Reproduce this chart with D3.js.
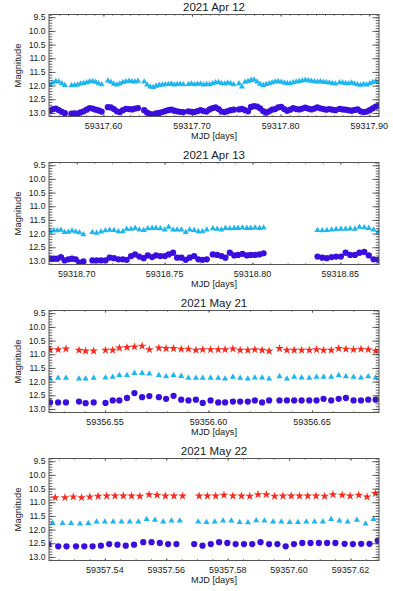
<!DOCTYPE html>
<html><head><meta charset="utf-8">
<script src="https://cdn.jsdelivr.net/npm/d3@7"></script>
<style>
body{margin:0;background:#fff}
svg{display:block}
text{font-family:"Liberation Sans",Arial,Helvetica,sans-serif;fill:#1a1a1a}
</style>
</head><body>
<svg id="chart" width="393" height="591"></svg>
<script>
// ---------- DATA ----------
const titles = ["2021 Apr 12", "2021 Apr 13", "2021 May 21", "2021 May 22"];
const yTickValues = [9.5, 10.0, 10.5, 11.0, 11.5, 12.0, 12.5, 13.0];

// 2021 Apr 12
const apr12XTicks = [59317.60, 59317.70, 59317.80, 59317.90];
const apr12Time = [
59317.5395,59317.5429,59317.5463,59317.5497,59317.5531,59317.5565,
59317.5640,59317.5674,59317.5708,59317.5742,59317.5776,59317.5810,59317.5844,59317.5878,59317.5912,59317.5946,59317.5980,
59317.6050,59317.6084,59317.6118,59317.6152,59317.6186,59317.6220,59317.6254,59317.6288,59317.6322,59317.6356,59317.6390,
59317.6460,59317.6494,59317.6528,59317.6562,59317.6596,59317.6630,59317.6664,59317.6698,59317.6732,59317.6766,59317.6800,59317.6834,59317.6868,59317.6902,
59317.6960,59317.6994,59317.7028,59317.7062,59317.7096,59317.7130,59317.7164,59317.7198,59317.7232,59317.7266,59317.7300,59317.7334,59317.7368,59317.7402,59317.7436,59317.7470,
59317.7530,59317.7564,59317.7598,59317.7632,59317.7666,59317.7700,59317.7734,59317.7768,59317.7802,59317.7836,59317.7870,59317.7904,59317.7938,59317.7972,59317.8006,59317.8040,59317.8074,59317.8108,59317.8142,59317.8176,59317.8210,59317.8244,59317.8278,59317.8312,59317.8346,59317.8380,59317.8414,59317.8448,59317.8482,59317.8516,59317.8550,59317.8584,59317.8618,
59317.8665,59317.8699,59317.8733,59317.8767,59317.8801,59317.8835,59317.8869,59317.8903,59317.8937,59317.8971,59317.9005,59317.9039,59317.9073,59317.9107];
const apr12Tri = [
11.96,11.90,11.84,11.86,11.92,11.99,
12.00,11.99,11.97,11.93,11.91,11.89,11.85,11.84,11.87,11.92,11.96,
11.82,11.87,11.94,11.97,11.93,11.88,11.85,11.83,11.85,11.86,11.83,
11.86,11.97,12.04,12.06,12.01,11.98,11.97,11.96,11.95,11.93,11.97,11.95,11.94,11.96,
11.95,11.93,11.96,11.94,11.93,11.97,11.95,11.96,11.92,11.89,11.88,11.91,11.93,11.90,11.92,11.96,
11.92,12.04,11.87,11.84,11.80,11.79,11.86,11.94,11.99,11.95,11.92,11.89,11.86,11.84,11.87,11.90,11.91,11.92,11.89,11.86,11.84,11.82,11.80,11.81,11.83,11.85,11.86,11.85,11.87,11.88,11.90,11.91,11.93,
11.89,11.90,11.91,11.92,11.90,11.93,11.96,11.98,11.95,11.97,11.92,11.88,11.84,11.87];
const apr12Circ = [
12.93,12.86,12.84,12.90,12.96,13.01,
13.03,13.02,13.03,12.98,12.94,12.88,12.82,12.84,12.88,12.91,12.95,
12.79,12.80,12.86,12.94,12.97,12.90,12.85,12.86,12.87,12.84,12.82,
12.90,12.99,13.04,13.05,13.02,13.00,12.97,12.93,12.90,12.88,12.92,12.94,12.96,12.97,
12.94,12.96,12.97,12.93,12.90,12.93,12.95,12.87,12.82,12.80,12.86,12.95,12.97,12.93,12.90,12.88,
12.87,12.85,12.90,12.94,12.78,12.75,12.77,12.83,12.93,12.99,12.94,12.88,12.86,12.80,12.78,12.86,12.92,12.88,12.82,12.86,12.87,12.84,12.81,12.84,12.87,12.84,12.80,12.83,12.86,12.88,12.86,12.88,12.90,
12.85,12.87,12.88,12.90,12.92,12.89,12.87,12.94,12.97,12.95,12.90,12.83,12.77,12.74];

// 2021 Apr 13
const apr13XTicks = [59318.70, 59318.75, 59318.80, 59318.85];
const apr13Time = [
59318.6848,59318.6869,59318.6889,59318.6910,59318.6931,59318.6952,59318.6973,59318.6994,59318.7015,59318.7038,
59318.7089,59318.7113,59318.7138,59318.7163,59318.7187,59318.7212,59318.7237,59318.7262,59318.7284,59318.7309,59318.7332,59318.7356,59318.7381,59318.7404,59318.7429,59318.7451,59318.7476,59318.7501,59318.7523,59318.7548,59318.7571,59318.7596,59318.7620,59318.7643,59318.7668,59318.7692,59318.7715,59318.7740,
59318.7774,59318.7799,59318.7823,59318.7846,59318.7871,59318.7896,59318.7918,59318.7943,59318.7968,59318.7990,59318.8015,59318.8040,59318.8063,
59318.8370,59318.8397,59318.8423,59318.8450,59318.8476,59318.8503,59318.8530,59318.8556,59318.8583,59318.8609,59318.8636,59318.8662,59318.8689,59318.8716];
const apr13Tri = [
11.91,11.89,11.89,11.87,11.95,11.94,11.90,11.93,11.96,12.03,
11.95,11.98,11.93,11.89,11.87,11.88,11.92,11.92,11.83,11.83,11.80,11.86,11.88,11.81,11.80,11.80,11.81,11.86,11.76,11.86,11.86,11.86,11.95,11.86,11.88,11.92,11.92,11.86,
11.81,11.83,11.86,11.80,11.81,11.80,11.80,11.79,11.80,11.80,11.79,11.80,11.79,
11.88,11.89,11.88,11.86,11.84,11.83,11.83,11.82,11.83,11.76,11.78,11.80,11.86,11.93];
const apr13Circ = [
12.92,12.92,12.92,12.86,12.98,12.94,12.92,12.94,13.06,13.02,
12.98,12.98,12.98,12.98,12.88,12.90,12.94,12.94,12.96,12.82,12.76,12.84,12.90,12.80,12.86,12.80,12.82,12.82,12.76,12.70,12.88,12.88,12.96,12.88,12.82,12.94,12.96,12.94,
12.76,12.78,12.82,12.88,12.70,12.80,12.78,12.74,12.80,12.78,12.78,12.76,12.72,
12.84,12.88,12.90,12.86,12.84,12.84,12.70,12.78,12.78,12.70,12.67,12.80,12.94,12.96];

// 2021 May 21
const may21XTicks = [59356.55, 59356.60, 59356.65];
const may21Time = [
59356.5234,59356.5273,59356.5311,59356.5374,59356.5406,59356.5445,59356.5502,59356.5537,59356.5569,59356.5606,59356.5642,59356.5679,59356.5714,
59356.5760,59356.5795,59356.5831,59356.5868,59356.5903,59356.5939,59356.5972,59356.6010,59356.6047,59356.6080,59356.6118,59356.6153,59356.6190,59356.6224,59356.6259,59356.6293,
59356.6343,59356.6379,59356.6414,59356.6450,59356.6487,59356.6522,59356.6556,59356.6593,59356.6629,59356.6664,59356.6701,59356.6737,59356.6772,59356.6808];
const may21Star = [10.83,10.83,10.80,10.85,10.88,10.88,10.85,10.85,10.77,10.75,10.73,10.70,10.83,10.77,10.79,10.79,10.81,10.81,10.85,10.83,10.83,10.83,10.83,10.80,10.85,10.85,10.83,10.85,10.88,10.79,10.85,10.85,10.85,10.85,10.83,10.85,10.85,10.79,10.81,10.83,10.81,10.83,10.88];
const may21Tri = [11.90,11.87,11.87,11.90,11.90,11.87,11.86,11.83,11.77,11.77,11.69,11.69,11.71,11.77,11.81,11.77,11.80,11.87,11.87,11.87,11.87,11.87,11.90,11.83,11.87,11.90,11.86,11.86,11.90,11.81,11.90,11.83,11.86,11.87,11.83,11.83,11.83,11.77,11.81,11.83,11.86,11.81,11.86];
const may21Circ = [12.76,12.76,12.76,12.73,12.79,12.76,12.78,12.69,12.69,12.60,12.42,12.57,12.53,12.57,12.63,12.52,12.66,12.69,12.66,12.78,12.69,12.76,12.76,12.73,12.73,12.73,12.69,12.76,12.69,12.69,12.69,12.69,12.69,12.69,12.69,12.63,12.69,12.63,12.60,12.69,12.69,12.66,12.66];

// 2021 May 22
const may22XTicks = [59357.54, 59357.56, 59357.58, 59357.60, 59357.62];
const may22StarTime = [
59357.5238,59357.5270,59357.5297,59357.5324,59357.5351,59357.5378,59357.5406,59357.5433,59357.5460,59357.5487,59357.5514,59357.5544,59357.5570,59357.5597,59357.5625,59357.5653,
59357.5707,59357.5734,59357.5761,59357.5788,59357.5817,59357.5845,59357.5872,59357.5899,59357.5926,59357.5953,59357.5980,59357.6007,59357.6034,59357.6061,59357.6088,59357.6116,59357.6143,59357.6173,59357.6199,59357.6227,59357.6254,59357.6281];
const may22Star = [10.83,10.83,10.80,10.83,10.80,10.78,10.77,10.77,10.77,10.77,10.78,10.72,10.74,10.77,10.77,10.77,
10.77,10.77,10.77,10.74,10.77,10.77,10.78,10.72,10.72,10.78,10.77,10.77,10.77,10.77,10.77,10.78,10.72,10.74,10.77,10.74,10.80,10.68];
const may22TriTime = [
59357.5230,59357.5262,59357.5290,59357.5319,59357.5346,59357.5373,59357.5400,59357.5427,59357.5454,59357.5481,59357.5509,59357.5536,59357.5563,59357.5590,59357.5617,59357.5644,
59357.5704,59357.5731,59357.5758,59357.5785,59357.5812,59357.5839,59357.5866,59357.5893,59357.5920,59357.5948,59357.5975,59357.6002,59357.6029,59357.6056,59357.6083,59357.6110,59357.6137,59357.6164,59357.6191,59357.6221,59357.6249,59357.6275];
const may22Tri = [11.77,11.77,11.77,11.79,11.77,11.71,11.71,11.71,11.71,11.71,11.71,11.62,11.65,11.71,11.68,11.68,
11.71,11.73,11.71,11.68,11.68,11.73,11.74,11.67,11.68,11.71,11.71,11.73,11.73,11.71,11.71,11.71,11.62,11.68,11.71,11.65,11.79,11.62];
const may22CircTime = [
59357.5216,59357.5248,59357.5275,59357.5306,59357.5333,59357.5360,59357.5387,59357.5414,59357.5441,59357.5468,59357.5495,59357.5525,59357.5552,59357.5579,59357.5606,59357.5633,
59357.5691,59357.5718,59357.5745,59357.5772,59357.5799,59357.5826,59357.5853,59357.5880,59357.5907,59357.5935,59357.5962,59357.5989,59357.6016,59357.6043,59357.6070,59357.6097,59357.6124,59357.6151,59357.6181,59357.6208,59357.6235,59357.6262,59357.6289];
const may22Circ = [12.55,12.61,12.61,12.61,12.61,12.61,12.59,12.53,12.55,12.59,12.55,12.46,12.46,12.49,12.53,12.53,
12.53,12.59,12.53,12.46,12.49,12.53,12.53,12.53,12.46,12.53,12.53,12.61,12.53,12.49,12.49,12.49,12.49,12.49,12.52,12.53,12.52,12.52,12.40];

// ---------- LAYOUT / STYLE ----------
const W = 393, H = 591;
const left = 49, right = 379, plotH = 102;
const yDomain = [9.4, 13.13];
const colors = {circ: "#3a0ede", tri: "#1db6ee", star: "#fb2a1c"};
const symbolFor = {
  circ: d3.symbol().type(d3.symbolCircle).size(31),
  tri: d3.symbol().type(d3.symbolTriangle).size(16),
  star: d3.symbol().type(d3.symbolStar).size(23)
};

const panels = [
  {title: titles[0], xDomain: [59317.5386, 59317.9110], xTicks: apr12XTicks, minorStep: 0.01,
   series: [{t: apr12Time, m: apr12Tri, k: "tri"}, {t: apr12Time, m: apr12Circ, k: "circ"}]},
  {title: titles[1], xDomain: [59318.6842, 59318.8720], xTicks: apr13XTicks, minorStep: 0.01,
   series: [{t: apr13Time, m: apr13Tri, k: "tri"}, {t: apr13Time, m: apr13Circ, k: "circ"}]},
  {title: titles[2], xDomain: [59356.5229, 59356.6824], xTicks: may21XTicks, minorStep: 0.01,
   series: [{t: may21Time, m: may21Star, k: "star"}, {t: may21Time, m: may21Tri, k: "tri"}, {t: may21Time, m: may21Circ, k: "circ"}]},
  {title: titles[3], xDomain: [59357.5218, 59357.6293], xTicks: may22XTicks, minorStep: 0.005,
   series: [{t: may22StarTime, m: may22Star, k: "star"}, {t: may22TriTime, m: may22Tri, k: "tri"}, {t: may22CircTime, m: may22Circ, k: "circ"}]}
];

const svg = d3.select("#chart");
svg.append("rect").attr("width", W).attr("height", H).attr("fill", "#fff");

const axisColor = "#3c3c3c";
const yMajorLen = 6.6, yMinorLen = 3.3, xMajorLen = 2.2, xMinorLen = 1.2;

panels.forEach((p, i) => {
  const top = 14.5 + i * 148;
  const bottom = top + plotH;
  const x = d3.scaleLinear().domain(p.xDomain).range([left, right]);
  const y = d3.scaleLinear().domain(yDomain).range([top, bottom]);
  const g = svg.append("g");

  const clipId = "clip" + i;
  svg.append("clipPath").attr("id", clipId)
    .append("rect").attr("x", left).attr("y", top).attr("width", right - left).attr("height", plotH);

  // data marks
  const dg = g.append("g").attr("clip-path", `url(#${clipId})`);
  p.series.forEach(s => {
    const pts = s.t.map((t, j) => ({t, m: s.m[j]}));
    dg.append("g").selectAll("path").data(pts).join("path")
      .attr("d", symbolFor[s.k])
      .attr("transform", d => `translate(${x(d.t)},${y(d.m)})`)
      .attr("fill", colors[s.k]);
  });

  // y axes (left & right, inward ticks)
  const yMinor = d3.range(Math.ceil(yDomain[0] * 10), Math.floor(yDomain[1] * 10) + 1).map(v => v / 10);
  const axL = d3.axisRight(y).tickValues(yMinor).tickSize(yMinorLen).tickFormat("");
  const axLM = d3.axisRight(y).tickValues(yTickValues).tickSize(yMajorLen).tickFormat("");
  const axR = d3.axisLeft(y).tickValues(yMinor).tickSize(yMinorLen).tickFormat("");
  const axRM = d3.axisLeft(y).tickValues(yTickValues).tickSize(yMajorLen).tickFormat("");
  [[axL, left], [axLM, left], [axR, right], [axRM, right]].forEach(([ax, px]) => {
    const a = g.append("g").attr("transform", `translate(${px},0)`).call(ax);
    a.select(".domain").remove();
    a.selectAll("line").attr("stroke", axisColor).attr("stroke-width", 0.8);
  });
  // y labels
  g.append("g").selectAll("text").data(yTickValues).join("text")
    .attr("x", left - 3.5).attr("y", d => y(d)).attr("dy", "0.35em")
    .attr("text-anchor", "end").attr("font-size", 8.6)
    .text(d => d3.format(".1f")(d));

  // x axes (bottom & top, inward ticks)
  const xs = p.minorStep;
  const xMinor = d3.range(Math.ceil(p.xDomain[0] / xs - 1e-6), Math.floor(p.xDomain[1] / xs + 1e-6) + 1).map(v => v * xs);
  const axB = d3.axisTop(x).tickValues(xMinor).tickSize(xMinorLen).tickFormat("");
  const axBM = d3.axisTop(x).tickValues(p.xTicks).tickSize(xMajorLen).tickFormat("");
  const axT = d3.axisBottom(x).tickValues(xMinor).tickSize(xMinorLen).tickFormat("");
  const axTM = d3.axisBottom(x).tickValues(p.xTicks).tickSize(xMajorLen).tickFormat("");
  [[axB, bottom], [axBM, bottom], [axT, top], [axTM, top]].forEach(([ax, py]) => {
    const a = g.append("g").attr("transform", `translate(0,${py})`).call(ax);
    a.select(".domain").remove();
    a.selectAll("line").attr("stroke", axisColor).attr("stroke-width", 0.8);
  });
  g.append("g").selectAll("text").data(p.xTicks).join("text")
    .attr("x", d => x(d)).attr("y", bottom + 12.3)
    .attr("text-anchor", "middle").attr("font-size", 9)
    .text(d => d3.format(".2f")(d));

  // frame
  g.append("rect").attr("x", left).attr("y", top).attr("width", right - left).attr("height", plotH)
    .attr("fill", "none").attr("stroke", "#555").attr("stroke-width", 1);

  // titles
  g.append("text").attr("x", (left + right) / 2).attr("y", top - 3.5)
    .attr("text-anchor", "middle").attr("font-size", 11.5).text(p.title);
  g.append("text").attr("x", (left + right) / 2).attr("y", bottom + 22.8)
    .attr("text-anchor", "middle").attr("font-size", 9.2).text("MJD [days]");
  g.append("text").attr("transform", `translate(21,${(top + bottom) / 2}) rotate(-90)`)
    .attr("text-anchor", "middle").attr("font-size", 9.4).text("Magnitude");
});
</script>
</body></html>
